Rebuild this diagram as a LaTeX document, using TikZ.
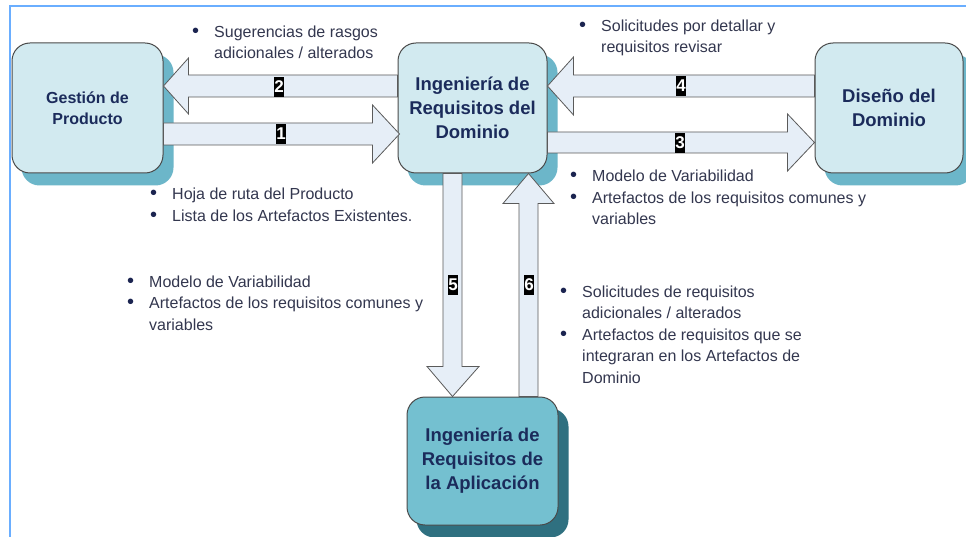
\documentclass[tikz,border=0pt]{standalone}
\usepackage{fontspec}
\setmainfont{Liberation Sans}
\usetikzlibrary{calc,backgrounds}
\definecolor{framecol}{HTML}{6AAEFF}
\definecolor{boxfill}{HTML}{D2EAF0}
\definecolor{boxshadow}{HTML}{6CB6C9}
\definecolor{aplfill}{HTML}{74C0D0}
\definecolor{aplshadow}{HTML}{2F7080}
\definecolor{boxborder}{HTML}{4A4A4A}
\definecolor{arrowfill}{HTML}{E6EEF7}
\definecolor{arrowdraw}{HTML}{5A5A5A}
\definecolor{labelcol}{HTML}{1B2B5B}
\definecolor{textcol}{HTML}{33374F}
\definecolor{bulletcol}{HTML}{1B2450}
\newcommand\bitem{\makebox[22pt][l]{\textcolor{bulletcol}{\scalebox{1.25}{\textbullet}}}}
\newcommand\bcont{\hspace*{22pt}}
\begin{document}
\begin{tikzpicture}[x=1pt,y=-1pt,
  box/.style={draw=boxborder, line width=1pt, rounded corners=18pt, fill=boxfill,
    text=labelcol, align=center, inner sep=0pt,
    font=\bfseries\fontsize{18.5}{24}\selectfont},
  barrow/.style={draw=arrowdraw, line width=0.8pt, fill=arrowfill, line join=miter},
  numlbl/.style={fill=black, text=white, font=\bfseries\fontsize{17}{17}\selectfont,
    inner xsep=0.5pt, inner ysep=1pt, minimum height=20pt},
  txt/.style={text=textcol, align=left, inner sep=0pt, anchor=west,
    font=\fontsize{16}{21.5}\selectfont},
  shadowbox/.style={rounded corners=18pt}]
\useasboundingbox (0,0) rectangle (966,537);

% boxes
\node[box, minimum width=151pt, minimum height=130pt,
  font=\bfseries\fontsize{16}{21.5}\selectfont] (gest) at (87.5,108) {Gestión de\\Producto};
\node[box, minimum width=149pt, minimum height=130pt] (dom) at (472.5,108)
  {Ingeniería de\\Requisitos del\\Dominio};
\node[box, minimum width=148pt, minimum height=130pt] (dis) at (889,108)
  {Diseño del\\Dominio};
\node[box, fill=aplfill, minimum width=151pt, minimum height=128pt] (apl) at (482.5,461)
  {Ingeniería de\\Requisitos de\\la Aplicación};

% background and shadows
\begin{scope}[on background layer]
  \fill[white] (0,0) rectangle (966,537);
  \draw[framecol, line width=2pt] (10,537) -- (10,6) -- (966,6);
  \foreach \n in {gest,dom,dis}
    \fill[boxshadow, shadowbox] ([shift={(10pt,-12pt)}]\n.south west) rectangle ([shift={(10pt,-12pt)}]\n.north east);
  \fill[aplshadow, shadowbox] ([shift={(10pt,-12pt)}]apl.south west) rectangle ([shift={(10pt,-12pt)}]apl.north east);
\end{scope}

% arrow 2: dom -> gest
\draw[barrow] let \p1=(gest.east), \p2=(dom.west) in
  (\x1,-86pt) -- (\x1+25pt,-58pt) -- (\x1+25pt,-75pt) -- (\x2,-75pt) -- (\x2,-97pt)
  -- (\x1+25pt,-97pt) -- (\x1+25pt,-114pt) -- cycle;
% arrow 1: gest -> dom
\draw[barrow] let \p1=(gest.east), \p2=(dom.west) in
  (\x1,-123pt) -- (\x2-25pt,-123pt) -- (\x2-25pt,-105pt) -- (\x2+2pt,-134pt)
  -- (\x2-25pt,-163pt) -- (\x2-25pt,-145pt) -- (\x1,-145pt) -- cycle;
% arrow 4: dis -> dom
\draw[barrow] let \p1=(dom.east), \p2=(dis.west) in
  (\x1,-86pt) -- (\x1+26pt,-57pt) -- (\x1+26pt,-75pt) -- (\x2,-75pt) -- (\x2,-97pt)
  -- (\x1+26pt,-97pt) -- (\x1+26pt,-115pt) -- cycle;
% arrow 3: dom -> dis
\draw[barrow] let \p1=(dom.east), \p2=(dis.west) in
  (\x1,-132pt) -- (\x2-27pt,-132pt) -- (\x2-27pt,-114pt) -- (\x2,-142.5pt)
  -- (\x2-27pt,-171pt) -- (\x2-27pt,-153pt) -- (\x1,-153pt) -- cycle;
% arrow 5: dom -> apl
\draw[barrow] let \p1=(dom.south), \p2=(apl.north) in
  (443pt,\y1) -- (462pt,\y1) -- (462pt,\y2+30pt) -- (479pt,\y2+30pt) -- (452.5pt,\y2)
  -- (427pt,\y2+30pt) -- (443pt,\y2+30pt) -- cycle;
% arrow 6: apl -> dom
\draw[barrow] let \p1=(dom.south), \p2=(apl.north) in
  (519pt,\y2) -- (519pt,\y1-30pt) -- (503pt,\y1-30pt) -- (528.5pt,\y1)
  -- (554pt,\y1-30pt) -- (538pt,\y1-30pt) -- (538pt,\y2) -- cycle;

% number labels
\node[numlbl] (n2) at (279,87) {2};
\node[numlbl] (n1) at (281,134) {1};
\node[numlbl] (n4) at (681,86) {4};
\node[numlbl] (n3) at (680,143) {3};
\node[numlbl] (n5) at (453,285) {5};
\node[numlbl] (n6) at (529,285) {6};

% bullet texts
\node[txt] (t1) at (192,42.5) {\bitem Sugerencias de rasgos\\\bcont adicionales / alterados};
\node[txt] (t2) at (579,38) {\bitem Solicitudes por detallar y\\\bcont requisitos revisar};
\node[txt] (t3) at (150,205) {\bitem Hoja de ruta del Producto\\\bitem Lista de los Artefactos Existentes.};
\node[txt] (t4) at (127,303) {\bitem Modelo de Variabilidad\\\bitem Artefactos de los requisitos comunes y\\\bcont variables};
\node[txt] (t5) at (570,197.5) {\bitem Modelo de Variabilidad\\\bitem Artefactos de los requisitos comunes y\\\bcont variables};
\node[txt] (t6) at (560,334.5) {\bitem Solicitudes de requisitos\\\bcont adicionales / alterados\\\bitem Artefactos de requisitos que se\\\bcont integraran en los Artefactos de\\\bcont Dominio};
\end{tikzpicture}
\end{document}
